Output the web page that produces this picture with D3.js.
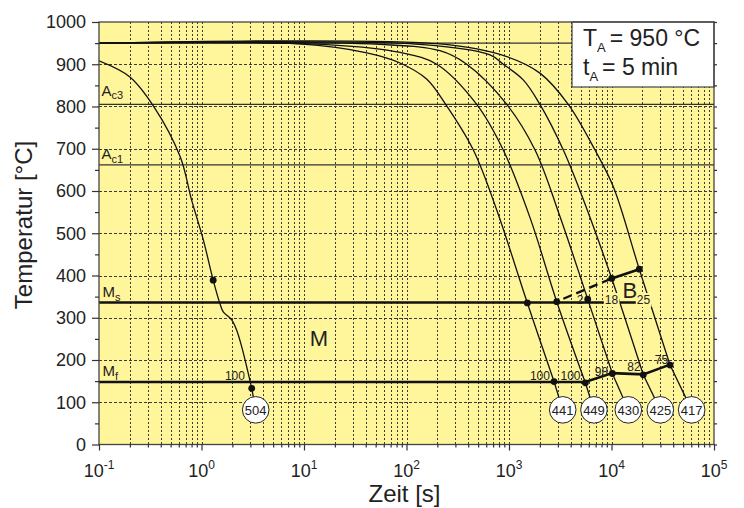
<!DOCTYPE html>
<html>
<head>
<meta charset="utf-8">
<script src="https://cdn.jsdelivr.net/npm/d3@7"></script>
<style>
body { margin: 0; padding: 0; background: #fff; }
svg text { font-family: "Liberation Sans", Arial, Helvetica, sans-serif; fill: #222; }
</style>
</head>
<body>
<div id="chart"></div>
<script>
const width = 744;
const height = 508;
const margin = {top: 22, right: 30, bottom: 63.5, left: 99};

// axis ticks
const decades = [0.1, 1, 10, 100, 1000, 10000, 100000];
const decadeExp = ["-1", "0", "1", "2", "3", "4", "5"];
const tempTicks = [0, 100, 200, 300, 400, 500, 600, 700, 800, 900, 1000];
const tempMinor = [50, 150, 250, 350, 450, 550, 650, 750, 850, 950];

// characteristic temperatures
const austT = 950, ac3T = 805, ac1T = 662, msT = 336, mfT = 148;

// cooling curves [time s, temperature °C]
const curveHv = ["504", "441", "449", "430", "425", "417"];
const curve504 = [[0.1, 908], [0.2, 870], [0.34, 801], [0.62, 681], [0.8, 579], [1.04, 485], [1.30, 389],
  [1.51, 334], [1.63, 314], [1.97, 295], [2.2, 271], [2.47, 231], [2.76, 184], [3.09, 133]];
const curve441 = [[0.1, 950], [9, 948], [41, 927], [86.5, 903], [157, 865], [241, 805], [449, 697],
  [759, 555], [1510, 335], [2750, 149]];
const curve449 = [[0.1, 950], [18, 946], [86.5, 928], [197, 900], [484, 805], [879, 697], [1603, 537],
  [2924, 338], [5560, 146]];
const curve430 = [[0.1, 950], [55, 947], [212, 932], [387, 900], [951, 805], [1795, 697], [3148, 539],
  [5861, 344], [10190, 168]];
const curve425 = [[0.1, 950], [135, 947], [653, 922], [879, 900], [1377, 863], [2004, 805], [3388, 697],
  [5309, 580], [10050, 393], [20420, 165]];
const curve417 = [[0.1, 950], [212, 948], [951, 918], [2004, 879], [3784, 805], [6902, 697], [10420, 610],
  [18660, 415], [37240, 188]];
const curves = [curve504, curve441, curve449, curve430, curve425, curve417];

// hardness circles
const circleTimes = [3.38, 3342, 6745, 14590, 29930, 60530];
const circleTemp = 82;

// measured points on the curves
const dotPoints = [[1.30, 389], [3.09, 133], [1510, 335], [2750, 149], [2924, 338], [5560, 146],
  [5861, 344], [10190, 168], [10050, 393], [20420, 165], [18660, 415], [37240, 188]];

// transformation lines
const msLine = [[0.1, msT], [23770, msT]];
const mfLine = [[0.1, mfT], [5560, mfT], [10190, 169], [20420, 166], [37240, 189]];
const bStartDash = [[3390, 345], [10050, 393]];
const bStartSolid = [[10050, 393], [18660, 415]];

// phase fractions
const mfPct = ["100", "100", "100", "98", "82", "75"];
const mfPctT = [2.12, 2004, 3981, 7980, 16560, 30740];
const mfPctTemp = [153, 153, 153, 162, 175, 190];
const msPct = ["2", "18", "25"];
const msPctT = [4932, 10000, 20500];

const svg = d3.select("#chart").append("svg")
    .attr("width", width)
    .attr("height", height);

const x = d3.scaleLog().domain([0.1, 100000]).range([margin.left, width - margin.right]);
const y = d3.scaleLinear().domain([0, 1000]).range([height - margin.bottom, margin.top]);
const pw = x.range()[1] - x.range()[0];
const ph = y.range()[0] - y.range()[1];

svg.append("defs").append("clipPath").attr("id", "plot")
  .append("rect").attr("x", margin.left).attr("y", margin.top).attr("width", pw).attr("height", ph);

const bg = "#fff59b";
svg.append("rect").attr("x", margin.left).attr("y", margin.top)
    .attr("width", pw).attr("height", ph).attr("fill", bg);

// grid
const minorT = [];
for (let e = -1; e < 5; e++) {
  for (let k = 2; k <= 9; k++) minorT.push(k * Math.pow(10, e));
}
const grid = svg.append("g").attr("stroke", "#3a3a3a").attr("stroke-width", 1);
grid.selectAll(".vg").data(minorT.concat(decades.slice(1, -1))).enter().append("line")
    .attr("x1", d => Math.round(x(d)) + 0.5).attr("x2", d => Math.round(x(d)) + 0.5)
    .attr("y1", y(1000)).attr("y2", y(0))
    .attr("stroke-dasharray", "2,2");
grid.selectAll(".hg").data(tempTicks.slice(1, -1)).enter().append("line")
    .attr("x1", x(0.1)).attr("x2", x(100000))
    .attr("y1", d => Math.round(y(d)) + 0.5).attr("y2", d => Math.round(y(d)) + 0.5)
    .attr("stroke-dasharray", "3,2");

const plot = svg.append("g").attr("clip-path", "url(#plot)");
const line = d3.line().x(d => x(d[0])).y(d => y(d[1]));

// temperature levels
plot.selectAll(".lvl").data([austT, ac3T, ac1T]).enter().append("line")
    .attr("x1", x(0.1)).attr("x2", x(100000))
    .attr("y1", d => y(d)).attr("y2", d => y(d))
    .attr("stroke", "#333").attr("stroke-width", 1.3);

plot.append("path").attr("d", line(msLine)).attr("fill", "none").attr("stroke", "#111").attr("stroke-width", 2.6);
plot.append("path").attr("d", line(mfLine)).attr("fill", "none").attr("stroke", "#111").attr("stroke-width", 2.6);

// cooling curves
const smooth = d3.line().x(d => x(d[0])).y(d => y(d[1])).curve(d3.curveCatmullRom.alpha(0.5));
plot.selectAll(".cc").data(curves).enter().append("path")
    .attr("d", d => smooth(d))
    .attr("fill", "none").attr("stroke", "#111").attr("stroke-width", 1.3);

// connectors to circles
plot.selectAll(".conn").data(curves).enter().append("line")
    .attr("x1", d => x(d[d.length - 1][0])).attr("y1", d => y(d[d.length - 1][1]))
    .attr("x2", (d, i) => x(circleTimes[i])).attr("y2", y(circleTemp))
    .attr("stroke", "#111").attr("stroke-width", 1.3);

// bainite start
plot.append("path").attr("d", line(bStartDash)).attr("fill", "none")
    .attr("stroke", "#111").attr("stroke-width", 2.4).attr("stroke-dasharray", "9,5");
plot.append("path").attr("d", line(bStartSolid)).attr("fill", "none")
    .attr("stroke", "#111").attr("stroke-width", 2.6);

// Ms level fractions with yellow background
const msLab = svg.append("g");
msPct.forEach((s, i) => {
  const t = msLab.append("text").attr("x", x(msPctT[i])).attr("y", y(msT) + 1.5)
      .attr("text-anchor", "middle").style("font-size", "12px").attr("fill", "#333").text(s);
  const b = t.node().getBBox();
  if (i > 0) {
    msLab.insert("rect", "text").attr("x", b.x - 1).attr("y", b.y).attr("width", b.width + 2)
        .attr("height", b.height).attr("fill", bg);
  }
});

svg.selectAll(".mfp").data(mfPct).enter().append("text")
    .attr("x", (d, i) => x(mfPctT[i])).attr("y", (d, i) => y(mfPctTemp[i]))
    .attr("text-anchor", "middle").style("font-size", "12px").attr("fill", "#333")
    .text(d => d);

// dots
svg.selectAll(".dot").data(dotPoints).enter().append("circle")
    .attr("cx", d => x(d[0])).attr("cy", d => y(d[1])).attr("r", 3.4).attr("fill", "#111");

// hardness circles
const hv = svg.selectAll(".hv").data(curveHv).enter().append("g")
    .attr("transform", (d, i) => `translate(${x(circleTimes[i])},${y(circleTemp)})`);
hv.append("circle").attr("r", 13.3).attr("fill", "#fff").attr("stroke", "#222").attr("stroke-width", 1);
hv.append("text").attr("text-anchor", "middle").attr("y", 4.8).style("font-size", "13px").text(d => d);

// phase labels
svg.append("text").attr("x", x(14)).attr("y", y(234)).attr("text-anchor", "middle")
    .style("font-size", "22px").text("M");
svg.append("text").attr("x", x(15140)).attr("y", y(347)).attr("text-anchor", "middle")
    .style("font-size", "22px").text("B");

function subLabel(xp, yp, main, sub) {
  const t = svg.append("text").attr("x", xp).attr("y", yp).style("font-size", "15px");
  t.append("tspan").text(main);
  t.append("tspan").attr("dy", 3.5).style("font-size", "11px").text(sub);
}
subLabel(x(0.1) + 2.5, y(ac3T) - 8.5, "A", "c3");
subLabel(x(0.1) + 2.5, y(ac1T) - 5.5, "A", "c1");
subLabel(x(0.1) + 3.5, y(msT) - 5.5, "M", "s");
subLabel(x(0.1) + 3.5, y(mfT) - 5.5, "M", "f");

// austenitising box
const bx = x(100000) - 142;
svg.append("rect").attr("x", bx).attr("y", y(1000)).attr("width", 142).attr("height", 65)
    .attr("fill", "#fff").attr("stroke", "#444").attr("stroke-width", 1.2);
const l1 = svg.append("text").attr("x", bx + 11).attr("y", 45.7).style("font-size", "23px");
l1.append("tspan").text("T");
l1.append("tspan").attr("dy", 6).style("font-size", "13px").text("A");
l1.append("tspan").attr("dy", -6).attr("dx", 4).text("= 950 °C");
const l2 = svg.append("text").attr("x", bx + 11).attr("y", 74.5).style("font-size", "23px");
l2.append("tspan").text("t");
l2.append("tspan").attr("dy", 6).style("font-size", "13px").text("A");
l2.append("tspan").attr("dy", -6).attr("dx", 4).text("= 5 min");

// frame
svg.append("rect").attr("x", margin.left).attr("y", margin.top).attr("width", pw).attr("height", ph)
    .attr("fill", "none").attr("stroke", "#444").attr("stroke-width", 1.3);

// axes
const axStyle = g => {
  g.select(".domain").remove();
  g.selectAll(".tick line").attr("stroke", "#333").attr("stroke-width", 1.2);
};
svg.append("g").attr("transform", `translate(0,${y(0)})`)
    .call(d3.axisBottom(x).tickValues(decades).tickSize(6).tickFormat(""))
    .call(axStyle);
svg.append("g").attr("transform", `translate(0,${y(0)})`)
    .call(d3.axisBottom(x).tickValues(minorT).tickSize(3).tickFormat(""))
    .call(axStyle);
const xl = svg.selectAll(".xl").data(decades).enter().append("text")
    .attr("x", d => x(d)).attr("y", 476.5).attr("text-anchor", "middle").style("font-size", "18px");
xl.append("tspan").text("10");
xl.append("tspan").attr("dy", -7.5).style("font-size", "12px").text((d, i) => decadeExp[i]);

svg.append("g").attr("transform", `translate(${x(0.1)},0)`)
    .call(d3.axisLeft(y).tickValues(tempTicks).tickSize(7).tickPadding(6).tickFormat(d3.format("d")))
    .call(axStyle)
    .call(g => g.selectAll("text").style("font-size", "18px").attr("fill", "#222"));
svg.append("g").attr("transform", `translate(${x(0.1)},0)`)
    .call(d3.axisLeft(y).tickValues(tempMinor).tickSize(4).tickFormat(""))
    .call(axStyle);
svg.append("g").attr("transform", `translate(${x(100000)},0)`)
    .call(d3.axisRight(y).tickValues(tempTicks.concat(tempMinor)).tickSize(3).tickFormat(""))
    .call(axStyle);

// titles
svg.append("text").attr("transform", "translate(32,225) rotate(-90)")
    .attr("text-anchor", "middle").style("font-size", "24px").text("Temperatur [°C]");
svg.append("text").attr("x", (x(0.1) + x(100000)) / 2 - 2).attr("y", 502)
    .attr("text-anchor", "middle").style("font-size", "24px").text("Zeit [s]");
</script>
</body>
</html>
